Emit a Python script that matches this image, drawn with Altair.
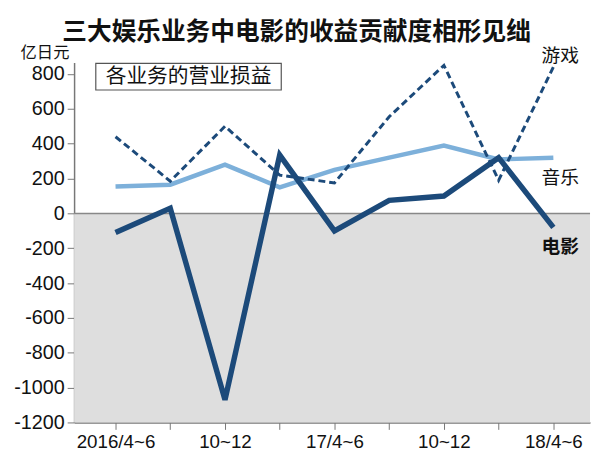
import altair as alt
import pandas as pd

quarters = ["2016/4~6", "7~9", "10~12", "17/1~3", "17/4~6", "7~9", "10~12", "18/1~3", "18/4~6"]
tick_labels = ["2016/4~6", "", "10~12", "", "17/4~6", "", "10~12", "", "18/4~6"]
movie = [-110, 30, -1070, 335, -100, 75, 100, 320, -80]
music = [155, 165, 280, 150, 250, 320, 390, 310, 320]
games = [440, 185, 500, 220, 175, 555, 850, 190, 840]
y_ticks = [-1200, -1000, -800, -600, -400, -200, 0, 200, 400, 600, 800]

series_names = ["游戏", "音乐", "电影"]
label_y = [905, 200, -195]

rows = []
for i, q in enumerate(quarters):
    rows.append({"idx": i, "q": q, "series": "电影", "v": movie[i]})
    rows.append({"idx": i, "q": q, "series": "音乐", "v": music[i]})
    rows.append({"idx": i, "q": q, "series": "游戏", "v": games[i]})
df = pd.DataFrame(rows)

lab_df = pd.DataFrame({"series": series_names, "idx": [len(quarters) - 1] * 3, "v": label_y})
band_df = pd.DataFrame({"v": [0], "v2": [-1200]})

FONT = "Noto Sans CJK SC"
NUM_FONT = "Liberation Sans"
W, H = 523, 365
NAVY = "#1c4a7a"
LIGHT = "#7db0da"

label_expr = "[" + ",".join("'%s'" % t for t in tick_labels) + "][datum.value]"

x_enc = alt.X(
    "idx:Q",
    scale=alt.Scale(domain=[-0.757, 8.67], nice=False, zero=False),
    axis=alt.Axis(
        values=list(range(len(quarters))),
        labelExpr=label_expr,
        labelOverlap=False,
        title=None,
        grid=False,
        domainColor="#777777",
        domainWidth=1.5,
        tickColor="#777777",
        tickSize=7,
        labelFont=NUM_FONT,
        labelFontSize=19,
        labelColor="#111111",
        labelPadding=3,
    ),
)
y_scale = alt.Scale(domain=[-1200, 867], nice=False, zero=False)
y_axis = alt.Axis(
    values=y_ticks,
    tickCount=11,
    labelExpr="'' + datum.value",
    labelOverlap=False,
    title="亿日元",
    titleAngle=0,
    titleX=-30,
    titleY=-5,
    titleAlign="center",
    titleBaseline="alphabetic",
    titleFont=FONT,
    titleFontSize=16.5,
    titleFontWeight="normal",
    titleColor="#111111",
    grid=False,
    domainColor="#777777",
    domainWidth=1.5,
    tickColor="#777777",
    tickSize=7,
    labelFont=NUM_FONT,
    labelFontSize=20,
    labelColor="#111111",
    labelPadding=3,
)
y_enc = alt.Y("v:Q", scale=y_scale, axis=y_axis)

band = alt.Chart(band_df).mark_rect(color="#dedede").encode(
    x=alt.value(0), x2=alt.value(W), y=y_enc, y2="v2:Q",
)
zero = alt.Chart(band_df).mark_rule(color="#888888", strokeWidth=1.5).encode(
    x=alt.value(0), x2=alt.value(W), y=y_enc
)

base = alt.Chart(df)
games_line = base.transform_filter("datum.series == '游戏'").mark_line(
    color=NAVY, strokeWidth=3, strokeDash=[7, 4]
).encode(x=x_enc, y=y_enc)
music_line = base.transform_filter("datum.series == '音乐'").mark_line(
    color=LIGHT, strokeWidth=4.5
).encode(x=x_enc, y=y_enc)
movie_line = base.transform_filter("datum.series == '电影'").mark_line(
    color=NAVY, strokeWidth=5.5
).encode(x=x_enc, y=y_enc)

labels_norm = alt.Chart(lab_df).transform_filter("datum.series != '电影'").mark_text(
    font=FONT, fontSize=19, align="center", baseline="middle", dx=7, color="#111111"
).encode(x=x_enc, y=y_enc, text="series:N")
labels_bold = alt.Chart(lab_df).transform_filter("datum.series == '电影'").mark_text(
    font=FONT, fontSize=19, fontWeight="bold", align="center", baseline="middle", dx=7, color="#111111"
).encode(x=x_enc, y=y_enc, text="series:N")

box = alt.Chart(band_df).mark_rect(fill="white", stroke="#555555", strokeWidth=1.2).encode(
    x=alt.value(22), x2=alt.value(210), y=alt.value(1), y2=alt.value(28)
)
box_text = alt.Chart(band_df).mark_text(
    font=FONT, fontSize=21, align="center", baseline="middle", color="#111111", text="各业务的营业损益"
).encode(x=alt.value(116), y=alt.value(15))

chart = alt.layer(band, zero, music_line, games_line, movie_line, labels_norm, labels_bold, box, box_text).properties(
    width=W,
    height=H,
    autosize=alt.AutoSizeParams(type="none"),
    padding={"left": 67, "top": 52, "right": 2, "bottom": 40},
    title=alt.TitleParams(
        "三大娱乐业务中电影的收益贡献度相形见绌",
        font=FONT, fontSize=25, fontWeight="bold", color="#111111",
        anchor="middle", dx=-36, offset=0,
    ),
).configure_view(stroke=None)

chart.save("out.html", embed_options={"renderer": "svg", "actions": False})
